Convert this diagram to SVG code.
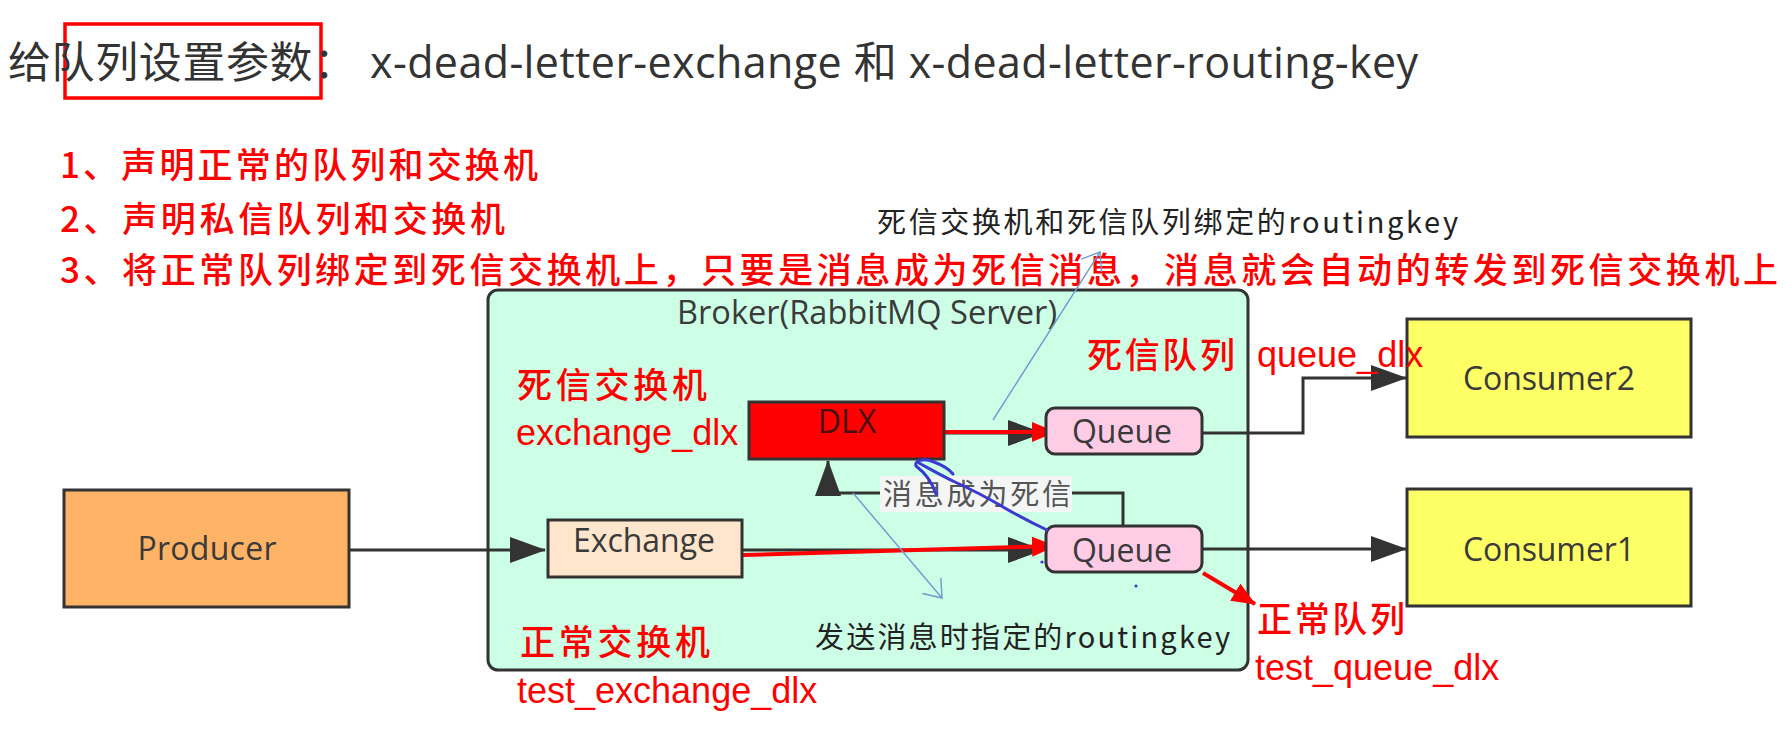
<svg xmlns="http://www.w3.org/2000/svg" width="1786" height="740" viewBox="0 0 1786 740">
<style>
.node{stroke:#333;stroke-width:3}
.lbl{font-family:"Open Sans","Noto Sans",sans-serif;font-size:32px;fill:#3a3a3a;text-anchor:middle}
.red{font-family:"Noto Sans CJK SC",sans-serif;font-size:35px;font-weight:500;fill:#ff0000}
.redl{font-family:"Liberation Sans",Arial,sans-serif;font-size:36px;fill:#ff0000}
.note{font-family:"Noto Sans CJK SC",sans-serif;font-size:29px;fill:#222}
.conn{fill:none;stroke:#333;stroke-width:3}
.rconn{fill:none;stroke:#ff0000;stroke-width:4}
.blue{fill:none;stroke:#6a9bd1;stroke-width:1.4}
</style>
<defs>
<marker id="ab" viewBox="0 0 36 26" refX="35" refY="13" markerWidth="36" markerHeight="26" markerUnits="userSpaceOnUse" orient="auto"><path d="M0,0 L36,13 L0,26 Z" fill="#333"/></marker>
<marker id="ar" viewBox="0 0 24 20" refX="23" refY="10" markerWidth="24" markerHeight="20" markerUnits="userSpaceOnUse" orient="auto"><path d="M0,0 L24,10 L0,20 Z" fill="#ff0000"/></marker>
<marker id="ao" viewBox="0 0 18 26" refX="17" refY="13" markerWidth="18" markerHeight="26" markerUnits="userSpaceOnUse" orient="auto"><path d="M1,1 L17,13 L1,25" fill="none" stroke="#6a9bd1" stroke-width="1.4"/></marker>
</defs>
<rect width="1786" height="740" fill="#ffffff"/>

<g id="title">
<rect x="65" y="24" width="256" height="74" fill="none" stroke="#ff0000" stroke-width="3.5"/>
<text x="8" y="78" font-family="Noto Sans CJK SC,sans-serif" font-size="43" fill="#333" letter-spacing="0.6">给队列设置参数：</text>
<text x="370" y="78" font-family="Open Sans,Noto Sans CJK SC,sans-serif" font-size="43" fill="#333" textLength="1048" lengthAdjust="spacing">x-dead-letter-exchange 和 x-dead-letter-routing-key</text>
</g>

<g id="steps">
<text class="red" x="60" y="178" textLength="478" lengthAdjust="spacing">1、声明正常的队列和交换机</text>
<text class="red" x="60" y="232" textLength="445" lengthAdjust="spacing">2、声明私信队列和交换机</text>
<text class="red" x="60" y="283" textLength="1718" lengthAdjust="spacing">3、将正常队列绑定到死信交换机上，只要是消息成为死信消息，消息就会自动的转发到死信交换机上</text>
</g>

<g id="broker">
<rect x="488" y="290" width="760" height="380" rx="10" fill="#ccffe6" stroke="#333" stroke-width="3"/>
<text class="lbl" x="867" y="324" textLength="380" lengthAdjust="spacingAndGlyphs" font-size="28">Broker(RabbitMQ Server)</text>
</g>

<g id="connectors">
<path class="conn" d="M350,550 L545,550" marker-end="url(#ab)"/>
<path class="conn" d="M743,550 L1043,550" marker-end="url(#ab)"/>
<path class="rconn" d="M743,555 L1055,546" marker-end="url(#ar)"/>
<path class="conn" d="M945,433 L1043,433" marker-end="url(#ab)"/>
<path class="rconn" d="M945,432 L1055,432" marker-end="url(#ar)"/>
<path class="conn" d="M1202,433 L1303,433 L1303,378 L1406,378" marker-end="url(#ab)"/>
<path class="conn" d="M1202,549 L1406,549" marker-end="url(#ab)"/>
<path class="conn" d="M1123,527 L1123,493 L828,493 L828,461" marker-end="url(#ab)"/>
<path class="rconn" d="M1203,573 L1255,604" marker-end="url(#ar)"/>
<path class="blue" d="M993,420 L1100,252" marker-end="url(#ao)"/>
<path class="blue" d="M853,493 L942,598" marker-end="url(#ao)"/>
</g>

<g id="label-dead">
<rect x="880" y="476" width="192" height="36" fill="#f4f6f5"/>
<text class="note" x="883" y="505" textLength="188" lengthAdjust="spacing" style="fill:#555">消息成为死信</text>
</g>

<g id="producer">
<rect class="node" x="64" y="490" width="285" height="117" fill="#ffb366"/>
<text class="lbl" x="207" y="560" textLength="139">Producer</text>
</g>
<g id="exchange">
<rect class="node" x="548" y="520" width="194" height="57" fill="#ffe6cc"/>
<text class="lbl" x="644" y="552" textLength="142">Exchange</text>
</g>
<g id="dlx">
<rect class="node" x="749" y="402" width="195" height="57" fill="#ff0000"/>
<text class="lbl" x="847" y="433" style="fill:#4a1010" font-size="31">DLX</text>
</g>
<g id="queue-dlx">
<rect class="node" x="1046" y="408" width="156" height="46" rx="9" fill="#ffcce6"/>
<text class="lbl" x="1122" y="443" textLength="100">Queue</text>
</g>
<g id="queue-normal">
<rect class="node" x="1046" y="526" width="156" height="46" rx="9" fill="#ffcce6"/>
<text class="lbl" x="1122" y="562" textLength="100">Queue</text>
</g>
<g id="consumer2">
<rect class="node" x="1407" y="319" width="284" height="118" fill="#ffff66"/>
<text class="lbl" x="1549" y="390" textLength="172">Consumer2</text>
</g>
<g id="consumer1">
<rect class="node" x="1407" y="489" width="284" height="117" fill="#ffff66"/>
<text class="lbl" x="1549" y="561" textLength="172">Consumer1</text>
</g>

<g id="annotations">
<text class="note" x="877" y="233" textLength="581" lengthAdjust="spacing">死信交换机和死信队列绑定的routingkey</text>
<text class="note" x="815" y="648" textLength="415" lengthAdjust="spacing">发送消息时指定的routingkey</text>
<text class="red" x="517" y="398" textLength="190" lengthAdjust="spacing">死信交换机</text>
<text class="redl" x="516" y="445">exchange_dlx</text>
<text class="red" x="520" y="655" textLength="190" lengthAdjust="spacing">正常交换机</text>
<text class="redl" x="517" y="703">test_exchange_dlx</text>
<text class="red" x="1087" y="368" textLength="148" lengthAdjust="spacing">死信队列</text>
<text class="redl" x="1257" y="367">queue_dlx</text>
<text class="red" x="1257" y="632" textLength="148" lengthAdjust="spacing">正常队列</text>
<text class="redl" x="1255" y="680">test_queue_dlx</text>
</g>

<g id="scribble" fill="none" stroke="#3a3ad0" stroke-width="3" stroke-linecap="round">
<path d="M1047,530 C1030,522 1013,513 998,504 C984,496 968,488 955,482 C942,476 930,469 919,463"/>
<path d="M936,494 C932,482 924,472 916,466 C914,460 924,458 934,462 C942,465 949,469 953,474"/>
<circle cx="1042" cy="562" r="1.6" fill="#3a3ad0" stroke="none"/>
<circle cx="1136" cy="586" r="1.6" fill="#3a3ad0" stroke="none"/>
</g>
</svg>
